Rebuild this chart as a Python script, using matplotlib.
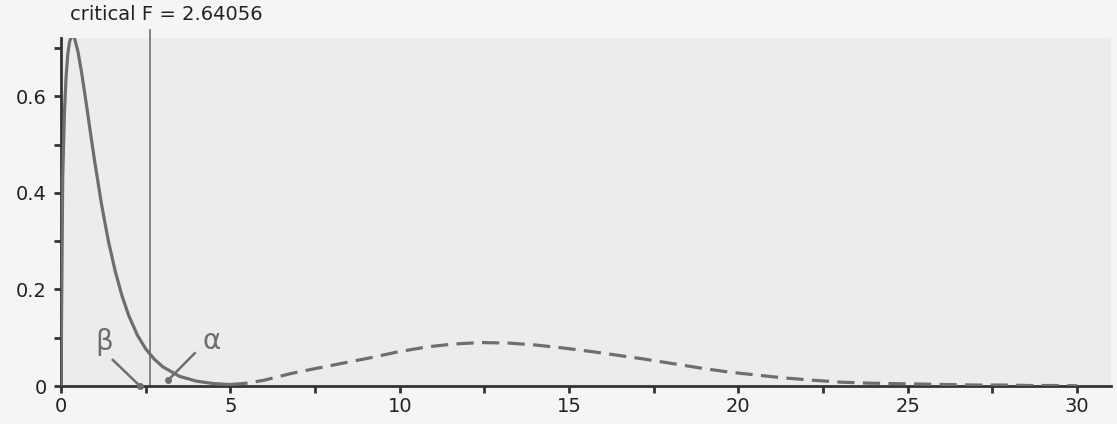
import matplotlib
matplotlib.use("Agg")
import matplotlib.pyplot as plt
from matplotlib.ticker import MultipleLocator

# Central F distribution (H0)
h0_x = [0.0, 0.05, 0.1, 0.15, 0.2, 0.25, 0.3, 0.35, 0.4, 0.5, 0.6, 0.7, 0.8, 0.9,
        1.0, 1.2, 1.4, 1.6, 1.8, 2.0, 2.25, 2.5, 2.75, 3.0, 3.5, 4.0, 4.5, 5.0]
h0_y = [0.0, 0.430, 0.564, 0.641, 0.687, 0.712, 0.724, 0.726, 0.720, 0.693, 0.653,
        0.607, 0.559, 0.510, 0.463, 0.375, 0.300, 0.238, 0.187, 0.146, 0.106,
        0.077, 0.056, 0.040, 0.020, 0.010, 0.005, 0.003]

# Noncentral F distribution (H1)
h1_x = [5.0, 5.5, 6.0, 6.8, 7.5, 8.3, 9.1, 9.9, 10.8, 11.6, 12.4, 13.2, 14.0, 14.8,
        15.7, 16.4, 17.2, 18.1, 18.9, 19.7, 20.5, 21.3, 22.2, 23.0, 23.8, 24.6,
        25.4, 26.2, 27.0, 27.8, 28.6, 29.4, 30.0]
h1_y = [0.003, 0.006, 0.012, 0.026, 0.036, 0.047, 0.058, 0.070, 0.081, 0.087, 0.090,
        0.089, 0.085, 0.079, 0.071, 0.064, 0.056, 0.046, 0.037, 0.029, 0.023,
        0.017, 0.012, 0.008, 0.006, 0.005, 0.004, 0.003, 0.002, 0.002, 0.001,
        0.001, 0.0005]

critical_f = 2.64056
beta_line_x = [1.53, 2.33]
beta_line_y = [0.054, 0.0]
alpha_line_x = [3.95, 3.16]
alpha_line_y = [0.068, 0.012]
x_ticks = [0, 5, 10, 15, 20, 25, 30]
y_ticks = [0, 0.2, 0.4, 0.6]
y_tick_labels = ["0", "0.2", "0.4", "0.6"]

fig = plt.figure(figsize=(11.17, 4.24), dpi=100)
fig.patch.set_facecolor("#f5f5f5")
ax = fig.add_axes([61 / 1117, 1 - 386 / 424, 1050 / 1117, 348 / 424])
ax.set_facecolor("#ececec")

curve_col = "#6e6e6e"
ax.plot(h0_x, h0_y, color=curve_col, lw=2.3, zorder=3)
ax.plot(h1_x, h1_y, color=curve_col, lw=2.3, ls=(0, (5.4, 2.6)), zorder=3)

ax.set_xlim(0, 31.0)
ax.set_ylim(0, 0.721)

# critical line
ax.plot([critical_f, critical_f], [0, 0.738], color="#7a7a7a", lw=1.3,
        clip_on=False, zorder=2)
fig.text(70 / 1117, 1 - 14 / 424, f"critical F = {critical_f:.5f}",
         fontsize=14, color="#222222", ha="left", va="center")

# beta / alpha annotations
ax.text(1.27, 0.092, "β", fontsize=20, color="#6e6e6e", ha="center", va="center")
ax.text(4.45, 0.093, "α", fontsize=20, color="#6e6e6e", ha="center", va="center")
ax.plot(beta_line_x, beta_line_y, color="#6e6e6e", lw=1.8, clip_on=False, zorder=4)
ax.plot(alpha_line_x, alpha_line_y, color="#6e6e6e", lw=1.8, zorder=4)
ax.plot(beta_line_x[-1], beta_line_y[-1], "o", color="#6e6e6e", ms=4,
        clip_on=False, zorder=4)
ax.plot(alpha_line_x[-1], alpha_line_y[-1], "o", color="#6e6e6e", ms=4, zorder=4)

for s in ["top", "right"]:
    ax.spines[s].set_visible(False)
for s in ["left", "bottom"]:
    ax.spines[s].set_color("#333333")
    ax.spines[s].set_linewidth(2.0)

ax.set_xticks(x_ticks)
ax.set_yticks(y_ticks)
ax.set_yticklabels(y_tick_labels)
ax.xaxis.set_minor_locator(MultipleLocator(2.5))
ax.yaxis.set_minor_locator(MultipleLocator(0.1))
ax.tick_params(which="both", direction="out", length=5, width=2,
               color="#333333", labelsize=14, labelcolor="#222222")
ax.tick_params(axis="x", pad=3)
ax.tick_params(axis="y", pad=5)

fig.savefig("out.png", dpi=100, facecolor=fig.get_facecolor())
